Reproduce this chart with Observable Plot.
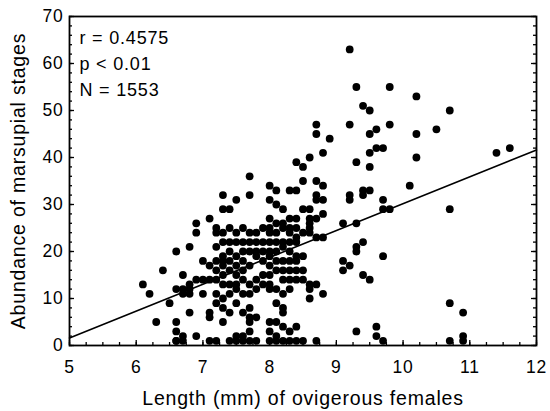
<!DOCTYPE html>
<html><head><meta charset="utf-8">
<script src="https://cdn.jsdelivr.net/npm/d3@7"></script>
<script src="https://cdn.jsdelivr.net/npm/@observablehq/plot@0.6"></script>
<style>
body{margin:0;background:#fff}
#chart svg{display:block}
</style>
</head><body><div id="chart"></div>
<script>
// Lengths (mm) of ovigerous females, one entry per column of points
const lengthColumns = [6.1, 6.2, 6.3, 6.4, 6.5, 6.6, 6.7, 6.8, 6.9, 7.0, 7.1, 7.2, 7.3, 7.4, 7.5, 7.6, 7.7, 7.8, 7.9, 8.0, 8.1, 8.2, 8.3, 8.4, 8.5, 8.6, 8.7, 8.8, 8.9, 9.1, 9.2, 9.3, 9.4, 9.5, 9.6, 9.7, 9.8, 10.1, 10.2, 10.5, 10.7, 10.9, 11.4, 11.6];
// Abundance of marsupial stages for each length column
const abundanceColumns = [
  [13], [11], [5], [16], [9],
  [20, 12, 5, 3, 1, 1],
  [15, 12, 11, 2, 1],
  [21, 13, 12, 11, 7],
  [26, 24, 14, 2],
  [18, 14, 11],
  [27, 17, 14, 7, 6, 1],
  [25, 24, 21, 18, 16, 14, 11, 9, 1],
  [32, 29, 24, 22, 19, 18, 17, 15, 13, 10, 8, 5],
  [29, 25, 22, 20, 18, 16, 13, 11, 7, 1],
  [31, 24, 22, 19, 17, 15, 13, 12, 9, 2, 1],
  [25, 22, 20, 18, 16, 14, 11, 7, 2, 1],
  [36, 32, 24, 22, 20, 17, 13, 11, 8, 6, 5, 3, 1],
  [24, 22, 20, 19, 14, 12, 6, 1],
  [25, 22, 20, 18, 15, 13],
  [34, 31, 27, 25, 24, 22, 20, 19, 17, 15, 13, 12, 5, 3, 1],
  [33, 30, 26, 24, 22, 20, 18, 16, 12, 9, 5, 2, 1],
  [29, 26, 25, 22, 21, 18, 16, 14, 11, 8, 7, 4, 1],
  [33, 27, 25, 24, 22, 20, 18, 16, 14, 12, 3, 1],
  [39, 33, 27, 25, 23, 22, 19, 18, 16, 14, 4, 1],
  [38, 35, 29, 24, 19, 16, 14, 1],
  [40, 29, 27, 26, 25, 24, 13, 12, 10],
  [47, 45, 35, 32, 31, 27, 23, 13, 1],
  [41, 34, 31, 28, 23, 11],
  [44],
  [26, 18, 16],
  [63, 47, 32, 31, 17],
  [55, 39, 26, 21, 20, 3],
  [51, 33, 32, 22, 15],
  [50, 45, 41, 38, 33, 14],
  [46, 42, 4, 2],
  [42, 31, 29, 19, 1],
  [55, 47, 29],
  [34],
  [53, 45, 40],
  [46],
  [50, 29, 9, 1],
  [7, 2, 1],
  [41],
  [42]
];
// Regression line endpoints
const fitLength = [5, 12];
const fitAbundance = [1.6, 41.6];
// Statistics annotation
const statLines = ["r = 0.4575", "p < 0.01", "N = 1553"];
const statY = [65.3, 59.8, 54.3];
// Axis titles
const xTitle = "Length (mm) of ovigerous females";
const yTitle = "Abundance of marsupial stages";
// Ticks
const xMajor = [5, 6, 7, 8, 9, 10, 11, 12];
const xMinor = d3.range(5, 12.001, 0.25);
const yMajor = [0, 10, 20, 30, 40, 50, 60, 70];
const yMinor = d3.range(0, 70.001, 2);

const points = [];
lengthColumns.forEach((len, i) => abundanceColumns[i].forEach(a => points.push({len, a})));
const stats = statLines.map((t, i) => ({t, y: statY[i]}));
const fit = fitLength.map((x, i) => ({x, y: fitAbundance[i]}));

const W = 550, H = 411, mL = 69, mR = 14, mT = 16, mB = 66;
const fw = W - mL - mR, fh = H - mT - mB;

const chart = Plot.plot({
  width: W, height: H,
  marginLeft: mL, marginRight: mR, marginTop: mT, marginBottom: mB,
  style: {fontFamily: "'Liberation Sans', Arial, sans-serif", fontSize: "17.5px", color: "#000", background: "#fff", letterSpacing: "0.8px"},
  x: {domain: [5, 12]},
  y: {domain: [0, 70]},
  marks: [
    Plot.dot(points, {x: "len", y: "a", r: 3.9, fill: "#000", stroke: null}),
    Plot.line(fit, {x: "x", y: "y", stroke: "#000", strokeWidth: 1.6}),
    // inward ticks: bottom
    Plot.tickX(xMinor, {x: d => d, insetTop: fh - 3, stroke: "#000", strokeWidth: 1.3}),
    Plot.tickX(xMajor, {x: d => d, insetTop: fh - 5, stroke: "#000", strokeWidth: 1.3}),
    // left
    Plot.tickY(yMinor, {y: d => d, insetRight: fw - 3, stroke: "#000", strokeWidth: 1.3}),
    Plot.tickY(yMajor, {y: d => d, insetRight: fw - 5, stroke: "#000", strokeWidth: 1.3}),
    // right
    Plot.tickY(yMinor, {y: d => d, insetLeft: fw - 3, stroke: "#000", strokeWidth: 1.3}),
    Plot.tickY(yMajor, {y: d => d, insetLeft: fw - 5, stroke: "#000", strokeWidth: 1.3}),
    Plot.frame({stroke: "#000", strokeWidth: 1.8}),
    Plot.axisX({ticks: xMajor, tickSize: 0, tickPadding: 15, tickFormat: d => String(d), label: null}),
    Plot.axisY({ticks: yMajor, tickSize: 0, tickPadding: 6, tickFormat: d => String(d), label: null}),
    Plot.text([xTitle], {x: () => 8.5, frameAnchor: "bottom", dy: 53, text: d => d, fontSize: 19.5, textAnchor: "middle", lineAnchor: "middle"}),
    Plot.text([yTitle], {y: () => 35, frameAnchor: "left", dx: -51, text: d => d, fontSize: 19.5, rotate: -90, textAnchor: "middle", lineAnchor: "middle"}),
    Plot.text(stats, {x: () => 5.15, y: "y", text: "t", textAnchor: "start", lineAnchor: "middle", fontSize: 18})
  ]
});
document.getElementById("chart").appendChild(chart);
</script>
</body></html>
